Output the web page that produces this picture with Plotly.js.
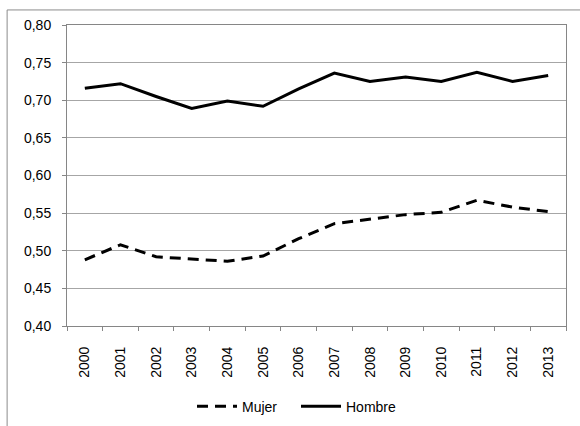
<!DOCTYPE html>
<html>
<head>
<meta charset="utf-8">
<script src="https://cdn.plot.ly/plotly-3.0.1.min.js"></script>
<style>
html,body{margin:0;padding:0;background:#fff;}
#chart{width:580px;height:426px;}
</style>
</head>
<body>
<div id="chart"></div>
<script>
const years = ['2000','2001','2002','2003','2004','2005','2006','2007','2008','2009','2010','2011','2012','2013'];
const mujer = [0.488,0.508,0.492,0.489,0.486,0.493,0.516,0.536,0.542,0.548,0.551,0.567,0.558,0.552];
const hombre = [0.716,0.722,0.705,0.689,0.699,0.692,0.715,0.736,0.725,0.731,0.725,0.737,0.725,0.733];

const traces = [
  {x: years, y: mujer, name: 'Mujer', type: 'scatter', mode: 'lines',
   line: {color: '#000', width: 3, dash: '11px,7px'}},
  {x: years, y: hombre, name: 'Hombre', type: 'scatter', mode: 'lines',
   line: {color: '#000', width: 3}}
];

const layout = {
  width: 580, height: 426,
  margin: {l: 67, r: 14, t: 25, b: 100, autoexpand: false},
  paper_bgcolor: '#fff', plot_bgcolor: '#fff',
  separators: ',.',
  font: {family: 'Liberation Sans, Arial, sans-serif', size: 14, color: '#000'},
  showlegend: true,
  legend: {orientation: 'h', x: (192 - 67) / 499, xanchor: 'left', y: -0.268, yanchor: 'middle',
           font: {size: 14}, itemwidth: 40, entrywidth: 49, entrywidthmode: 'pixels', tracegroupgap: 0},
  xaxis: {type: 'category', range: [-0.5, 13.5], tickangle: -90, tickson: 'boundaries', ticks: 'outside',
          ticklen: 4, tickcolor: '#868686', showline: true, linecolor: '#868686', linewidth: 1,
          mirror: true, showgrid: false, tickfont: {size: 14}, ticklabelstandoff: 14, fixedrange: true},
  yaxis: {range: [0.40, 0.80], dtick: 0.05, tickformat: '.2f', ticks: 'outside', ticklen: 4,
          tickcolor: '#868686', showline: true, linecolor: '#868686', linewidth: 1, mirror: true,
          showgrid: true, gridcolor: '#a6a6a6', gridwidth: 1, zeroline: false,
          tickfont: {size: 14}, ticklabelstandoff: 8, fixedrange: true},
  shapes: [
    {type: 'line', xref: 'paper', yref: 'paper', x0: -0.12, x1: -0.12, y0: 1.05, y1: -0.4,
     line: {color: '#8c8c8c', width: 1}},
    {type: 'line', xref: 'paper', yref: 'paper', x0: -0.12, x1: 1.05, y0: 1.05, y1: 1.05,
     line: {color: '#8c8c8c', width: 1}}
  ]
};

Plotly.newPlot('chart', traces, layout, {displayModeBar: false, staticPlot: true});
</script>
</body>
</html>
